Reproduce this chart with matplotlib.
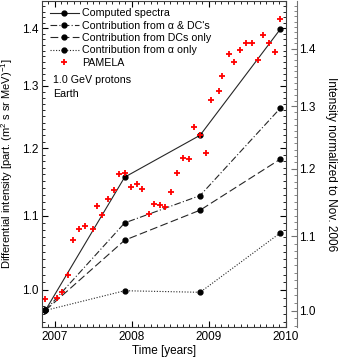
import numpy as np
import matplotlib
matplotlib.use("Agg")
import matplotlib.pyplot as plt
from matplotlib.ticker import FixedLocator, NullFormatter, FormatStrFormatter, MultipleLocator

plt.rcParams['font.family'] = ['Liberation Sans', 'DejaVu Sans']
plt.rcParams['mathtext.fontset'] = 'custom'
plt.rcParams['mathtext.rm'] = 'Liberation Sans'
plt.rcParams['mathtext.it'] = 'Liberation Sans:italic'

# model epochs (Nov. of each year)
t_model = [2006.88, 2007.91, 2008.89, 2009.93]
computed = [0.974, 1.156, 1.220, 1.398]
alpha_dc = [0.974, 1.090, 1.129, 1.263]
dc_only = [0.974, 1.066, 1.108, 1.183]
alpha_only = [0.974, 0.999, 0.997, 1.076]

# PAMELA 1.0 GeV protons
t_pam = [2006.874, 2007.034, 2007.095, 2007.173, 2007.242, 2007.319, 2007.397,
         2007.494, 2007.545, 2007.614, 2007.692, 2007.766, 2007.842, 2007.917,
         2007.994, 2008.065, 2008.138, 2008.221, 2008.290, 2008.368, 2008.436,
         2008.510, 2008.584, 2008.666, 2008.748, 2008.812, 2008.887, 2008.969,
         2009.036, 2009.138, 2009.179, 2009.260, 2009.332, 2009.406, 2009.481,
         2009.558, 2009.636, 2009.705, 2009.779, 2009.857, 2009.930]
pamela = [0.988, 0.990, 0.997, 1.019, 1.066, 1.082, 1.086,
          1.082, 1.114, 1.101, 1.124, 1.137, 1.161, 1.162,
          1.141, 1.146, 1.138, 1.102, 1.117, 1.116, 1.113,
          1.134, 1.162, 1.185, 1.183, 1.233, 1.221, 1.192,
          1.276, 1.291, 1.316, 1.354, 1.340, 1.362, 1.373,
          1.373, 1.344, 1.387, 1.373, 1.357, 1.416]

norm_nov06 = 0.9738
ylim = (0.9535, 1.45)
yticks = [1.0, 1.1, 1.2, 1.3, 1.4]
xticks = [2007, 2008, 2009, 2010]

fig = plt.figure(figsize=(3.38, 3.58), dpi=100)
ax = fig.add_axes([0.125, 0.0866, 0.72, 0.911])

ax.plot(t_model, computed, '-', color='0.15', lw=0.8, marker='o', ms=3.5,
        mfc='k', mec='k', label='Computed spectra')
ax.plot(t_model, alpha_dc, color='0.15', lw=0.8, dashes=(6, 2, 1, 2), marker='o',
        ms=3.5, mfc='k', mec='k', label="Contribution from \u03b1 & DC's")
ax.plot(t_model, dc_only, color='0.15', lw=0.8, dashes=(7, 3), marker='o',
        ms=3.5, mfc='k', mec='k', label='Contribution from DCs only')
ax.plot(t_model, alpha_only, color='0.15', lw=0.8, dashes=(1, 1.5), marker='o',
        ms=3.5, mfc='k', mec='k', label='Contribution from \u03b1 only')
ax.plot(t_pam, pamela, ls='none', marker='+', ms=5, mew=1.3, color='red',
        label='PAMELA')

ax.set_yscale('log')
ax.set_ylim(*ylim)
ax.set_xlim(2006.84, 2010.0)
ax.yaxis.set_major_locator(FixedLocator(yticks))
ax.yaxis.set_major_formatter(FormatStrFormatter('%.1f'))
ax.yaxis.set_minor_locator(FixedLocator(np.arange(0.96, 1.451, 0.01)))
ax.yaxis.set_minor_formatter(NullFormatter())
ax.set_xticks(xticks)
ax.xaxis.set_minor_locator(MultipleLocator(1 / 12))

ax.set_xlabel('Time [years]', fontsize=8.5, labelpad=1)
ax.set_ylabel('Differential intensity [part. (m$^2$ s sr MeV)$^{-1}$]',
              fontsize=8)
ax.yaxis.set_label_coords(-0.112, 0.5)

leg = ax.legend(loc='upper left', frameon=False, fontsize=7.7, handlelength=2.7,
                handletextpad=0.3, labelspacing=0.22, borderaxespad=0.3,
                bbox_to_anchor=(0.0, 1.0))
ax.text(0.045, 0.758, '1.0 GeV protons', transform=ax.transAxes, fontsize=7.7,
        va='center')
ax.text(0.045, 0.715, 'Earth', transform=ax.transAxes, fontsize=7.7, va='center')

# normalized axis on the right
ax2 = ax.twinx()
ax2.set_yscale('log')
ax2.set_ylim(ylim[0] / norm_nov06, ylim[1] / norm_nov06)
ax2.yaxis.set_major_locator(FixedLocator(yticks))
ax2.yaxis.set_major_formatter(FormatStrFormatter('%.1f'))
ax2.yaxis.set_minor_locator(FixedLocator(np.arange(0.98, 1.491, 0.01)))
ax2.yaxis.set_minor_formatter(NullFormatter())
for s in ['top', 'left', 'bottom']:
    ax2.spines[s].set_visible(False)
ax2.spines['right'].set_position(('outward', 8))
ax2.spines['right'].set_color('0.45')
ax2.tick_params(axis='y', which='major', direction='in', length=4, pad=2,
                labelsize=8.5, color='0.45')
ax2.tick_params(axis='y', which='minor', direction='in', length=2, color='0.45')
ax2.set_ylabel('Intensity normalized to Nov. 2006', rotation=270, fontsize=8.5,
               labelpad=15)

ax.tick_params(which='both', direction='in', top=True, right=True,
               labelsize=8.5, pad=3)
ax.tick_params(which='major', length=4)
ax.tick_params(which='minor', length=2)
for s in ax.spines.values():
    s.set_linewidth(0.8)
    s.set_color('0.25')

fig.savefig('out.png', dpi=100)
